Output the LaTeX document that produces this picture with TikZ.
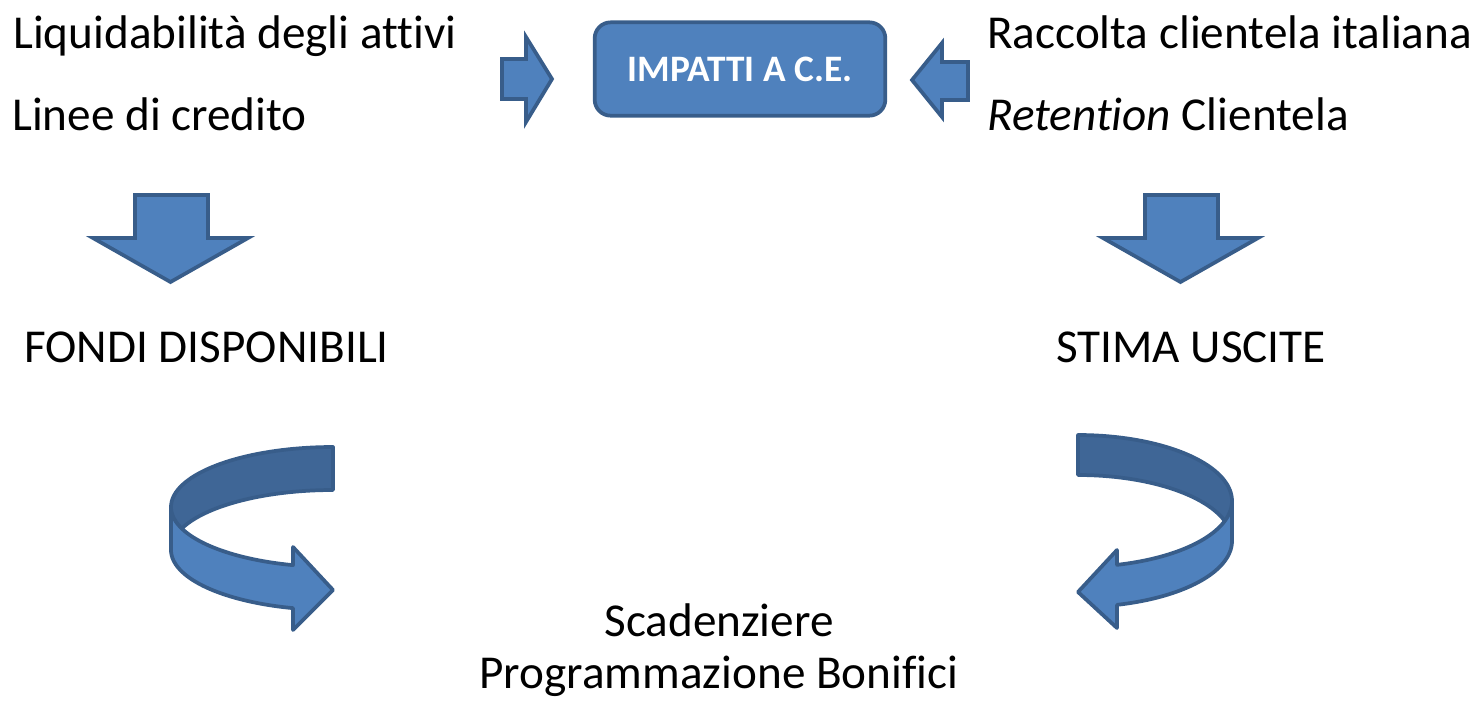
\documentclass[tikz,border=0pt]{standalone}
\usepackage{fontspec}
\setmainfont{Carlito}[Ligatures=NoCommon]
\definecolor{ofblue}{HTML}{4F81BD}
\definecolor{ofedge}{HTML}{385D8A}
\definecolor{ofdark}{HTML}{3F6696}
\tikzset{
  shp/.style={fill=ofblue, draw=ofedge, line width=2.8pt, line join=miter},
  shpback/.style={fill=ofdark, draw=ofedge, line width=2.8pt, line join=round},
  shpfront/.style={fill=ofblue, draw=ofedge, line width=2.8pt, line join=round},
  lbl/.style={inner sep=0pt, font=\fontsize{35.4}{42}\selectfont, text=black},
  boxlbl/.style={rounded corners=12pt, fill=ofblue, draw=ofedge, line width=2.8pt,
    minimum width=218pt, minimum height=70pt, text=white,
    font=\fontsize{28}{33}\selectfont\bfseries}
}
\begin{document}
\begin{tikzpicture}[x=0.75pt,y=-0.75pt]
\useasboundingbox (0,0) rectangle (1482,700);
% texts
\node[lbl, anchor=base west] (liq) at (13,48) {Liquidabilità degli attivi};
\node[lbl, anchor=base west] (lin) at (12,130) {Linee di credito};
\node[lbl, anchor=base west] (rac) at (987,48) {Raccolta clientela italiana};
\node[lbl, anchor=base west] (ret) at (987,130) {\textit{Retention} Clientela};
\node[lbl, anchor=base west] (fondi) at (24,362) {FONDI DISPONIBILI};
\node[lbl, anchor=base] (stima) at (1191,362) {STIMA USCITE};
\node[lbl, anchor=base] (scad) at (719,636) {Scadenziere};
\node[lbl, anchor=base] (prog) at (719,688) {Programmazione Bonifici};
% central box
\node[boxlbl] (box) at (740,69) {IMPATTI A C.E.};
% block arrows beside the box
\draw[shp] (502,59) -- (526,59) -- (526,37) -- (552,79) -- (526,122) -- (526,99) -- (502,99) -- cycle;
\draw[shp] (968,62) -- (942,62) -- (942,43) -- (912,80) -- (942,117) -- (942,100) -- (968,100) -- cycle;
% down arrows
\draw[shp] (135,195) -- (208,195) -- (208,238) -- (248,238) -- (170.5,282) -- (93,238) -- (135,238) -- cycle;
\draw[shp] (1145,195) -- (1218,195) -- (1218,238) -- (1258,238) -- (1180.5,282) -- (1103,238) -- (1145,238) -- cycle;
% left U-turn arrow
\draw[shpback] plot[domain=270:180, samples=40] ({333+162*cos(\x)},{507+60*sin(\x)})
  -- plot[domain=180:270, samples=40] ({333+162*cos(\x)},{550+60*sin(\x)}) -- cycle;
\draw[shpfront] plot[domain=180:104.3, samples=40] ({333+162*cos(\x)},{507+60*sin(\x)})
  -- (293,547) -- (333,590) -- (293,630)
  -- plot[domain=104.3:180, samples=40] ({333+162*cos(\x)},{550+60*sin(\x)}) -- cycle;
% right U-turn arrow
\draw[shpback] plot[domain=270:360, samples=40] ({1078+154*cos(\x)},{501+66*sin(\x)})
  -- plot[domain=360:270, samples=40] ({1078+154*cos(\x)},{541+66*sin(\x)}) -- cycle;
\draw[shpfront] plot[domain=0:75.3, samples=40] ({1078+154*cos(\x)},{501+66*sin(\x)})
  -- (1117,550) -- (1078,592) -- (1117,628)
  -- plot[domain=75.3:0, samples=40] ({1078+154*cos(\x)},{541+66*sin(\x)}) -- cycle;
\end{tikzpicture}
\end{document}
